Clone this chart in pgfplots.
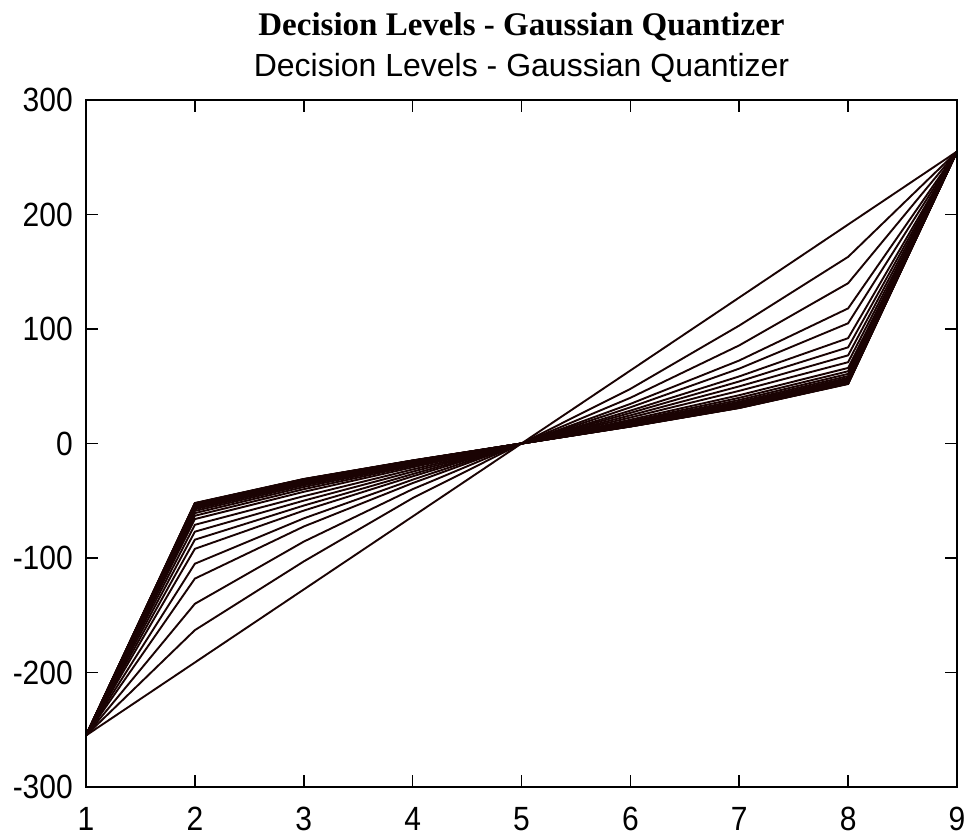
\documentclass[border=0pt]{standalone}
\usepackage{fontspec}
\setmainfont{Liberation Sans}
\newfontfamily\titlefont{Liberation Serif}
\usepackage{pgfplots}
\pgfplotsset{compat=1.18}
\definecolor{linec}{RGB}{26,3,3}

\begin{document}
\begin{tikzpicture}
\begin{axis}[
    scale only axis,
    width=871pt, height=687pt,
    xmin=1, xmax=9, ymin=-300, ymax=300,
    xtick={1,2,3,4,5,6,7,8,9},
    xticklabels={1,2,3,4,5,6,7,8,9},
    ytick={-300,-200,-100,0,100,200,300},
    yticklabels={-300,-200,-100,0,100,200,300},
    tick align=inside,
    major tick length=12pt,
    separate axis lines,
    axis line style={line width=2.6pt, black},
    tick style={line width=1.6pt, black},
    font=\fontsize{30}{36}\selectfont,
    xticklabel style={anchor=base, inner sep=0pt, yshift=-43pt, yscale=1.12},
    yticklabel style={anchor=east, inner sep=0pt, xshift=-13pt, yscale=1.12},
    clip=false,
    every axis plot post/.append style={linec, solid, line width=1.9pt, mark=none},
    ]

    \node[anchor=base, font=\fontsize{32}{38}\selectfont] at (rel axis cs:0.5,1) [yshift=23pt] {Decision Levels - Gaussian Quantizer};
    \node[anchor=base, font=\titlefont\bfseries\fontsize{33}{40}\selectfont] at (rel axis cs:0.5,1) [yshift=64pt] {Decision Levels - Gaussian Quantizer};

    % one curve per iteration of the quantizer design
    \addplot coordinates {(1,-255) (2,-191.25) (3,-127.5) (4,-63.75) (5,0) (6,63.75) (7,127.5) (8,191.25) (9,255)};
    \addplot coordinates {(1,-255) (2,-163) (3,-103) (4,-47.7) (5,0) (6,47.7) (7,103) (8,163) (9,255)};
    \addplot coordinates {(1,-255) (2,-140) (3,-85.7) (4,-39.9) (5,0) (6,39.9) (7,85.7) (8,140) (9,255)};
    \addplot coordinates {(1,-255) (2,-118) (3,-72.5) (4,-34.6) (5,0) (6,34.6) (7,72.5) (8,118) (9,255)};
    \addplot coordinates {(1,-255) (2,-105) (3,-65.4) (4,-31.6) (5,0) (6,31.6) (7,65.4) (8,105) (9,255)};
    \addplot coordinates {(1,-255) (2,-92) (3,-58.6) (4,-28.7) (5,0) (6,28.7) (7,58.6) (8,92) (9,255)};
    \addplot coordinates {(1,-255) (2,-84) (3,-54.2) (4,-26.7) (5,0) (6,26.7) (7,54.2) (8,84) (9,255)};
    \addplot coordinates {(1,-255) (2,-77) (3,-49.9) (4,-24.6) (5,0) (6,24.6) (7,49.9) (8,77) (9,255)};
    \addplot coordinates {(1,-255) (2,-71) (3,-46) (4,-22.7) (5,0) (6,22.7) (7,46) (8,71) (9,255)};
    \addplot coordinates {(1,-255) (2,-66) (3,-42.2) (4,-20.8) (5,0) (6,20.8) (7,42.2) (8,66) (9,255)};
    \addplot coordinates {(1,-255) (2,-63.1) (3,-39.9) (4,-19.5) (5,0) (6,19.5) (7,39.9) (8,63.1) (9,255)};
    \addplot coordinates {(1,-255) (2,-60.8) (3,-38) (4,-18.5) (5,0) (6,18.5) (7,38) (8,60.8) (9,255)};
    \addplot coordinates {(1,-255) (2,-58.9) (3,-36.5) (4,-17.7) (5,0) (6,17.7) (7,36.5) (8,58.9) (9,255)};
    \addplot coordinates {(1,-255) (2,-57.4) (3,-35.3) (4,-17.1) (5,0) (6,17.1) (7,35.3) (8,57.4) (9,255)};
    \addplot coordinates {(1,-255) (2,-56.25) (3,-34.4) (4,-16.6) (5,0) (6,16.6) (7,34.4) (8,56.25) (9,255)};
    \addplot coordinates {(1,-255) (2,-55.3) (3,-33.6) (4,-16.2) (5,0) (6,16.2) (7,33.6) (8,55.3) (9,255)};
    \addplot coordinates {(1,-255) (2,-54.5) (3,-33) (4,-15.9) (5,0) (6,15.9) (7,33) (8,54.5) (9,255)};
    \addplot coordinates {(1,-255) (2,-53.9) (3,-32.5) (4,-15.6) (5,0) (6,15.6) (7,32.5) (8,53.9) (9,255)};
    \addplot coordinates {(1,-255) (2,-53.45) (3,-32.2) (4,-15.4) (5,0) (6,15.4) (7,32.2) (8,53.45) (9,255)};
    \addplot coordinates {(1,-255) (2,-53.06) (3,-31.8) (4,-15.3) (5,0) (6,15.3) (7,31.8) (8,53.06) (9,255)};
    \addplot coordinates {(1,-255) (2,-52.75) (3,-31.6) (4,-15.1) (5,0) (6,15.1) (7,31.6) (8,52.75) (9,255)};
    \addplot coordinates {(1,-255) (2,-52.5) (3,-31.4) (4,-15) (5,0) (6,15) (7,31.4) (8,52.5) (9,255)};
    \addplot coordinates {(1,-255) (2,-52.3) (3,-31.2) (4,-14.9) (5,0) (6,14.9) (7,31.2) (8,52.3) (9,255)};
    \addplot coordinates {(1,-255) (2,-52.14) (3,-31.1) (4,-14.86) (5,0) (6,14.86) (7,31.1) (8,52.14) (9,255)};
    \addplot coordinates {(1,-255) (2,-52.01) (3,-31) (4,-14.8) (5,0) (6,14.8) (7,31) (8,52.01) (9,255)};
\end{axis}
\draw[line width=2.8pt, black] (current axis.south west) rectangle (current axis.north east);
\path (current axis.south west) ++(-86pt,-51pt) rectangle ++(969pt,838pt);
\end{tikzpicture}
\end{document}
